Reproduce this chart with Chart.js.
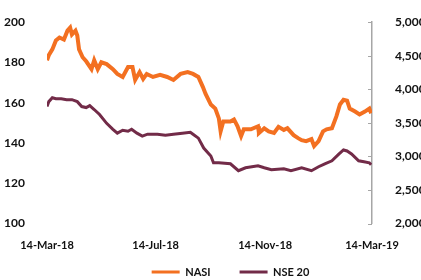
<!DOCTYPE html>
<html>
<head>
<meta charset="utf-8">
<script src="https://cdn.jsdelivr.net/npm/chart.js@4"></script>
<style>
  html, body { margin: 0; padding: 0; background: #fff; }
  #wrap { width: 421px; height: 280px; }
</style>
</head>
<body>
<div id="wrap"><canvas id="chart" width="421" height="280"></canvas></div>
<script>
// days counted from 14-Mar-18
const tickDays = [0, 122, 245, 365];
const tickLabels = ["14-Mar-18", "14-Jul-18", "14-Nov-18", "14-Mar-19"];

const nasiDays = [0, 2, 6, 10, 14, 19, 23, 26, 28, 32, 34, 36, 40, 44, 50, 53, 57, 61, 67, 74,
  79, 85, 91, 96, 99, 104, 108, 112, 119, 127, 135, 142, 150, 158, 164, 170, 175, 178, 184, 189,
  193, 195, 198, 206, 210, 214, 218, 221, 229, 237, 238, 244, 249, 255, 260, 266, 270, 277, 282,
  286, 291, 297, 300, 305, 310, 314, 320, 325, 329, 333, 337, 340, 346, 351, 357, 362, 364];
const nasiValues = [181.1, 183.6, 186.5, 190.9, 192.4, 191.4, 195.8, 197.3, 193.9, 195.8, 193.4,
  186.5, 182.6, 180.6, 176.7, 181.1, 176.7, 180.1, 179.2, 176.7, 174.3, 172.8, 177.7, 177.7, 171.3,
  175.2, 171.8, 174.3, 172.8, 173.8, 172.8, 171.3, 174.3, 175.2, 174.3, 172.8, 167.9, 164.5, 159.1,
  157.1, 152.2, 145.8, 150.7, 150.7, 151.7, 148.3, 143.4, 146.8, 146.8, 148.3, 144.9, 147.3, 145.8,
  145.0, 148.0, 146.5, 147.3, 143.9, 142.4, 141.4, 140.9, 141.9, 138.5, 140.9, 145.8, 146.8, 147.3,
  153.2, 159.1, 161.5, 161.0, 157.1, 155.6, 154.2, 155.6, 157.1, 154.7];

const nseDays = [0, 2, 6, 10, 16, 22, 28, 34, 39, 44, 48, 53, 59, 67, 74, 79, 85, 91, 95, 101,
  107, 113, 124, 133, 142, 152, 161, 164, 170, 176, 184, 187, 193, 206, 215, 223, 237, 244, 252,
  266, 274, 286, 297, 305, 312, 320, 328, 333, 337, 342, 350, 356, 362, 364];
const nseValues = [3743, 3816, 3875, 3860, 3860, 3846, 3846, 3816, 3743, 3728, 3757, 3699, 3625,
  3493, 3404, 3346, 3390, 3375, 3404, 3346, 3302, 3331, 3331, 3316, 3331, 3346, 3360, 3331, 3272,
  3125, 3007, 2904, 2904, 2890, 2787, 2831, 2860, 2831, 2801, 2816, 2787, 2831, 2787, 2846, 2890,
  2934, 3037, 3096, 3081, 3037, 2934, 2919, 2904, 2875];

const orange = "#F37021";
const plum = "#722B48";

Chart.defaults.font.family = "Lato";
Chart.defaults.font.weight = "bold";
Chart.defaults.font.size = 12;
Chart.defaults.color = "#111";

// small tick marks pointing into the plot on the right axis
const innerTicks = {
  id: "innerTicks",
  afterDraw(chart) {
    const s = chart.scales.y1;
    const c = chart.ctx;
    c.save();
    c.strokeStyle = "#A6A6A6";
    c.lineWidth = 1;
    s.ticks.forEach((t) => {
      const y = Math.round(s.getPixelForValue(t.value)) + 0.5;
      c.beginPath();
      c.moveTo(s.left - 4, y);
      c.lineTo(s.left, y);
      c.stroke();
    });
    c.restore();
  },
};

// legend sits a bit right of centre, below the date labels
const placeLegend = {
  id: "placeLegend",
  afterLayout(chart) {
    const x = chart.scales.x;
    x.bottom = x.top + 40;
    const lg = chart.legend;
    lg.top = 237.5;
    lg.left += 20;
    lg.right += 20;
  },
};

new Chart(document.getElementById("chart"), {
  type: "line",
  data: {
    datasets: [
      {
        label: "NASI",
        data: nasiDays.map((d, i) => ({ x: d, y: nasiValues[i] })),
        borderColor: orange,
        backgroundColor: orange,
        borderWidth: 4,
        pointRadius: 0,
        yAxisID: "y",
      },
      {
        label: "NSE 20",
        data: nseDays.map((d, i) => ({ x: d, y: nseValues[i] })),
        borderColor: plum,
        backgroundColor: plum,
        borderWidth: 3,
        pointRadius: 0,
        yAxisID: "y1",
      },
    ],
  },
  options: {
    responsive: false,
    animation: false,
    layout: { padding: { top: 19, left: 0, right: 0, bottom: 0 } },
    plugins: {
      tooltip: { enabled: false },
      legend: {
        position: "bottom",
        labels: {
          font: { size: 11 },
          boxWidth: 28,
          boxHeight: 3,
          padding: 29,
          generateLabels(chart) {
            return chart.data.datasets.map((ds, i) => ({
              text: ds.label,
              fillStyle: ds.borderColor,
              strokeStyle: ds.borderColor,
              lineWidth: 0,
              datasetIndex: i,
              fontColor: "#111",
            }));
          },
        },
      },
    },
    scales: {
      x: {
        type: "linear",
        min: 0,
        max: 365,
        afterBuildTicks(scale) {
          scale.ticks = tickDays.map((v) => ({ value: v }));
        },
        afterFit(scale) {
          scale.height = 6.5;
        },
        ticks: {
          font: { size: 11 },
          autoSkip: false,
          maxRotation: 0,
          padding: 7.5,
          callback: (v) => tickLabels[tickDays.indexOf(v)],
        },
        grid: { display: false },
        border: { display: false },
      },
      y: {
        position: "left",
        min: 100,
        max: 200,
        afterFit(scale) {
          scale.width = 47;
        },
        ticks: { stepSize: 20, padding: 14 },
        grid: { display: false },
        border: { display: false },
      },
      y1: {
        position: "right",
        min: 2000,
        max: 5000,
        afterFit(scale) {
          scale.width = 49;
        },
        ticks: {
          stepSize: 500,
          padding: 15,
          callback: (v) => v.toLocaleString("en-US"),
        },
        grid: { display: false, drawOnChartArea: false },
        border: { display: true, color: "#A6A6A6", width: 1.5 },
      },
    },
  },
  plugins: [innerTicks, placeLegend],
});
</script>
</body>
</html>
